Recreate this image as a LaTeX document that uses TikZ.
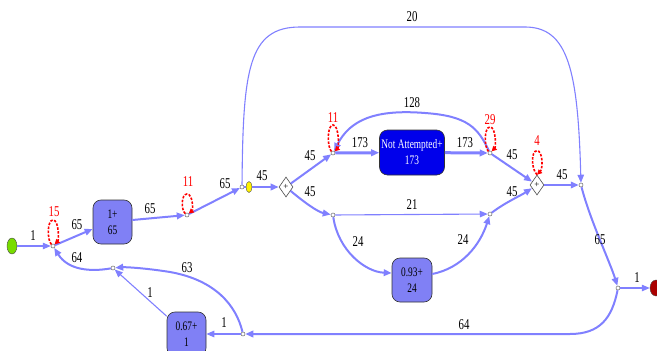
\documentclass[tikz,border=0pt]{standalone}
\usepackage{fontspec}
\setmainfont{Liberation Serif}
\usetikzlibrary{arrows.meta,shapes.geometric}
\definecolor{edgec}{RGB}{128,128,255}
\definecolor{boxc}{RGB}{128,128,245}
\definecolor{nabox}{RGB}{0,0,235}
\definecolor{startc}{RGB}{120,220,0}
\definecolor{endc}{RGB}{170,0,0}
\definecolor{loopc}{RGB}{255,0,0}
\newcommand{\sq}[1]{\scalebox{0.72}[1]{#1}}
\begin{document}
\begin{tikzpicture}[x=1pt,y=-1pt,
  jn/.style={circle,draw=black!60,fill=white,inner sep=0pt,minimum size=4pt,line width=0.5pt},
  actbox/.style={rectangle,rounded corners=8pt,draw=black!80,line width=0.6pt,fill=boxc,minimum width=39pt,minimum height=44pt,inner sep=0pt,align=center,font=\fontsize{13}{16}\selectfont},
  dmd/.style={diamond,draw=black!70,fill=white,line width=0.6pt,minimum width=14pt,minimum height=20pt,inner sep=0pt,aspect=0.7,font=\fontsize{9}{9}\selectfont},
  tip/.style={-{Triangle[length=8pt,width=6.5pt]}},
  e1/.style={draw=edgec,line width=1.1pt,tip},
  e2/.style={draw=edgec,line width=2pt,tip},
  e3/.style={draw=edgec,line width=3pt,tip},
  rl/.style={draw=loopc,line width=1.6pt,dash pattern=on 2.5pt off 1.5pt,-{Triangle[length=5pt,width=5pt]}},
  lab/.style={font=\fontsize{15}{15}\selectfont,inner sep=0pt},
  rlab/.style={font=\fontsize{15}{15}\selectfont,inner sep=0pt,text=loopc}]
\useasboundingbox (0,0) rectangle (657,351);
% nodes
\node[ellipse,draw=black!70,fill=startc,minimum width=10pt,minimum height=16pt,inner sep=0pt] (start) at (12,246) {};
\node[jn] (j1) at (53,246) {};
\node[actbox] (box1) at (112.5,222) {\sq{1+}\\\sq{65}};
\node[jn] (j2) at (187,215) {};
\node[jn] (j3) at (242,187) {};
\node[ellipse,draw=black!70,fill=yellow,minimum width=6pt,minimum height=11pt,inner sep=0pt] (yel) at (249,187) {};
\node[dmd] (d1) at (286,187) {+};
\node[jn] (j4) at (333,153) {};
\node[actbox,fill=nabox,text=white,minimum width=65pt,minimum height=45pt] (na) at (412,152.5) {\sq{Not Attempted+}\\\sq{173}};
\node[jn] (j6) at (490,153) {};
\node[jn] (j10) at (333,215) {};
\node[jn] (j11) at (490,214) {};
\node[actbox,minimum width=40pt] (box93) at (412,280) {\sq{0.93+}\\\sq{24}};
\node[dmd] (d2) at (537,185) {+};
\node[jn] (j5) at (581,185) {};
\node[jn] (j7) at (618,288) {};
\node[ellipse,draw=black!70,fill=endc,minimum width=12pt,minimum height=16pt,inner sep=0pt] (endn) at (656,288) {};
\node[jn] (j8) at (243,334) {};
\node[actbox] (box67) at (186.5,334) {\sq{0.67+}\\\sq{1}};
\node[jn] (j9) at (113,268) {};
% edges
\draw[e1] (start) -- (j1);
\draw[e2] (j1) -- (box1.west |- 0,229);
\draw[e2] (box1.east |- 0,220) -- (j2);
\draw[e2] (j2) -- (j3);
\draw[draw=edgec,line width=2pt] (j3) -- (yel);
\draw[e2] (yel) -- (d1);
\draw[e2] (d1) -- (j4);
\draw[e2] (d1) .. controls (305,203) and (318,212) .. (j10);
\draw[e3] (j4) -- (na);
\draw[e3] (na) -- (j6);
\draw[e2] (j6) .. controls (478,128) and (468,116) .. (425,113) .. controls (375,109) and (350,120) .. (j4);
\draw[e2] (j6) -- (d2);
\draw[e1] (j10) -- (j11);
\draw[e2] (j10) .. controls (338,250) and (365,272) .. (box93.west |- 0,273);
\draw[e2] (box93.east |- 0,274) .. controls (462,268) and (480,245) .. (j11);
\draw[e2] (j11) .. controls (506,202) and (520,196) .. (d2);
\draw[e2] (d2) -- (j5);
\draw[e1] (j3) .. controls (243,70) and (248,27) .. (300,27) -- (525,27) .. controls (568,27) and (578,70) .. (j5);
\draw[e2] (j5) .. controls (590,220) and (610,262) .. (j7);
\draw[e1] (j7) -- (endn);
\draw[e2] (j7) .. controls (612,318) and (600,334) .. (570,334) -- (j8);
\draw[e1] (j8) -- (box67);
\draw[e2] (j8) .. controls (236,305) and (215,280) .. (170,272) .. controls (145,268) and (125,267) .. (j9);
\draw[e1] (box67) -- (j9);
\draw[e2] (j9) .. controls (90,272) and (68,270) .. (j1);
% self loops
\draw[rl] (j1) .. controls +(-6,-6) and +(-6,0) .. ++(0,-26) .. controls +(6,0) and +(6,-6) .. (j1);
\draw[rl] (j2) .. controls +(-6,-5) and +(-6,0) .. ++(0,-21) .. controls +(6,0) and +(6,-5) .. (j2);
\draw[rl] (j4) .. controls +(-6,-6) and +(-6,0) .. ++(0,-28) .. controls +(6,0) and +(6,-6) .. (j4);
\draw[rl] (j6) .. controls +(-6,-6) and +(-6,0) .. ++(0,-26) .. controls +(6,0) and +(6,-6) .. (j6);
\draw[rl] (d2.north) .. controls +(-6,-6) and +(-6,0) .. ++(0,-24) .. controls +(6,0) and +(6,-6) .. (d2.north);
% labels
\node[lab] at (33,236) {\sq{1}};
\node[lab] at (77,225) {\sq{65}};
\node[rlab] at (54,212) {\sq{15}};
\node[lab] at (150,209) {\sq{65}};
\node[rlab] at (188,182) {\sq{11}};
\node[lab] at (225,184) {\sq{65}};
\node[lab] at (262,176) {\sq{45}};
\node[lab] at (310,156) {\sq{45}};
\node[lab] at (310,192) {\sq{45}};
\node[rlab] at (333,118) {\sq{11}};
\node[lab] at (360,143) {\sq{173}};
\node[lab] at (465,143) {\sq{173}};
\node[lab] at (412,103) {\sq{128}};
\node[rlab] at (490,120) {\sq{29}};
\node[lab] at (512,155) {\sq{45}};
\node[rlab] at (537,141) {\sq{4}};
\node[lab] at (562,175) {\sq{45}};
\node[lab] at (412,205) {\sq{21}};
\node[lab] at (358,242) {\sq{24}};
\node[lab] at (463,240) {\sq{24}};
\node[lab] at (512,192) {\sq{45}};
\node[lab] at (412,17) {\sq{20}};
\node[lab] at (600,240) {\sq{65}};
\node[lab] at (637,278) {\sq{1}};
\node[lab] at (464,325) {\sq{64}};
\node[lab] at (224,323) {\sq{1}};
\node[lab] at (187,268) {\sq{63}};
\node[lab] at (150,293) {\sq{1}};
\node[lab] at (77,258) {\sq{64}};
\end{tikzpicture}
\end{document}
